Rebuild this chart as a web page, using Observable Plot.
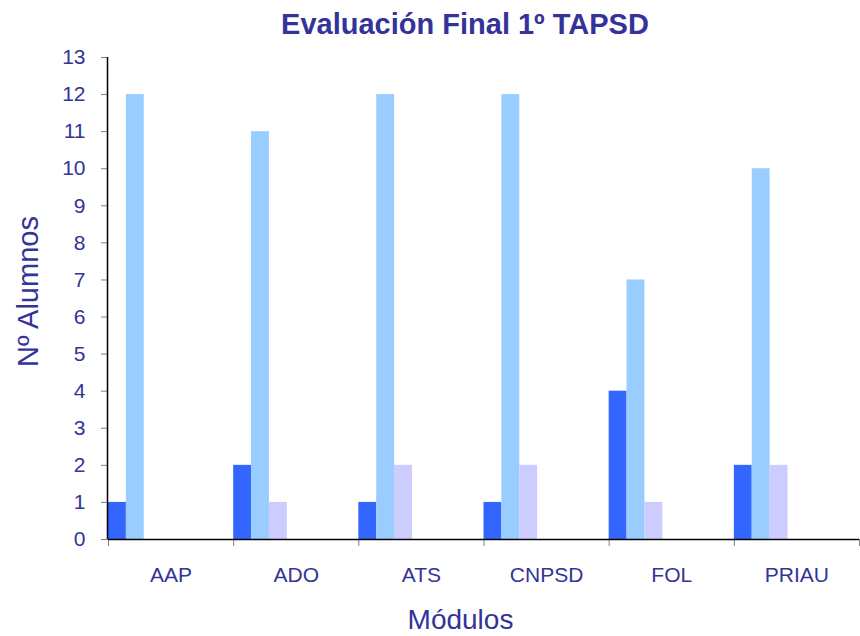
<!DOCTYPE html>
<html>
<head>
<meta charset="utf-8">
<script src="https://cdn.jsdelivr.net/npm/d3@7"></script>
<script src="https://cdn.jsdelivr.net/npm/@observablehq/plot@0.6"></script>
<style>
  html, body { margin: 0; padding: 0; background: #ffffff; }
  #chart svg { display: block; }
</style>
</head>
<body>
<div id="chart"></div>
<script>
const title = "Evaluación Final 1º TAPSD";
const xTitle = "Módulos";
const yTitle = "Nº Alumnos";
const modules = ["AAP", "ADO", "ATS", "CNPSD", "FOL", "PRIAU"];
const seriesNames = ["Serie 1", "Serie 2", "Serie 3"];
const serie1 = [1, 2, 1, 1, 4, 2];
const serie2 = [12, 11, 12, 12, 7, 10];
const serie3 = [0, 1, 2, 2, 1, 2];
const seriesColors = ["#3366FF", "#99CCFF", "#CCCCFF"];
const yTicks = [0, 1, 2, 3, 4, 5, 6, 7, 8, 9, 10, 11, 12, 13];

const seriesValues = [serie1, serie2, serie3];
const slots = 7; // bar slots per category band
const data = modules.flatMap((m, i) =>
  seriesNames.map((s, k) => ({ i, k, module: m, series: s, value: seriesValues[k][i] }))
);

const textColor = "#333399";
const font = "'Liberation Sans', Arial, sans-serif";

const chart = Plot.plot({
  width: 860,
  height: 636,
  marginLeft: 108,
  marginRight: 1,
  marginTop: 57,
  marginBottom: 97,
  style: { fontFamily: font, background: "#ffffff" },
  x: { type: "linear", domain: [0, modules.length] },
  y: { domain: [0, 13] },
  color: { domain: seriesNames, range: seriesColors },
  marks: [
    Plot.rectY(data, {
      x1: d => d.i + d.k / slots,
      x2: d => d.i + (d.k + 1) / slots,
      y: "value",
      fill: "series"
    }),
    Plot.axisY({
      ticks: yTicks,
      tickSize: 7,
      tickPadding: 16,
      fontSize: 21,
      stroke: "#808080",
      fill: textColor,
      label: null
    }),
    Plot.axisX({
      ticks: d3.range(0, modules.length + 1),
      tickSize: 7,
      tickFormat: () => "",
      stroke: "#808080",
      label: null
    }),
    Plot.axisX({
      ticks: modules.map((m, i) => i + 0.5),
      tickSize: 0,
      tickPadding: 28,
      tickFormat: d => modules[Math.floor(d)],
      fontSize: 21,
      fill: textColor,
      label: null
    }),
    Plot.ruleX([0], { stroke: "#000000", strokeWidth: 1.5, dx: -1 }),
    Plot.ruleY([0], { stroke: "#000000", strokeWidth: 1.5 }),
    Plot.text([title], {
      frameAnchor: "top",
      textAnchor: "middle",
      lineAnchor: "middle",
      dx: -19,
      dy: -32.3,
      fontSize: 29,
      fontWeight: "bold",
      fill: textColor
    }),
    Plot.text([xTitle], {
      frameAnchor: "bottom",
      textAnchor: "middle",
      lineAnchor: "middle",
      dx: -23.5,
      dy: 80.5,
      fontSize: 28,
      fill: textColor
    }),
    Plot.text([yTitle], {
      frameAnchor: "left",
      textAnchor: "middle",
      lineAnchor: "middle",
      rotate: -90,
      dx: -80,
      dy: -7,
      fontSize: 29,
      fill: textColor
    })
  ]
});

document.getElementById("chart").appendChild(chart);
</script>
</body>
</html>
